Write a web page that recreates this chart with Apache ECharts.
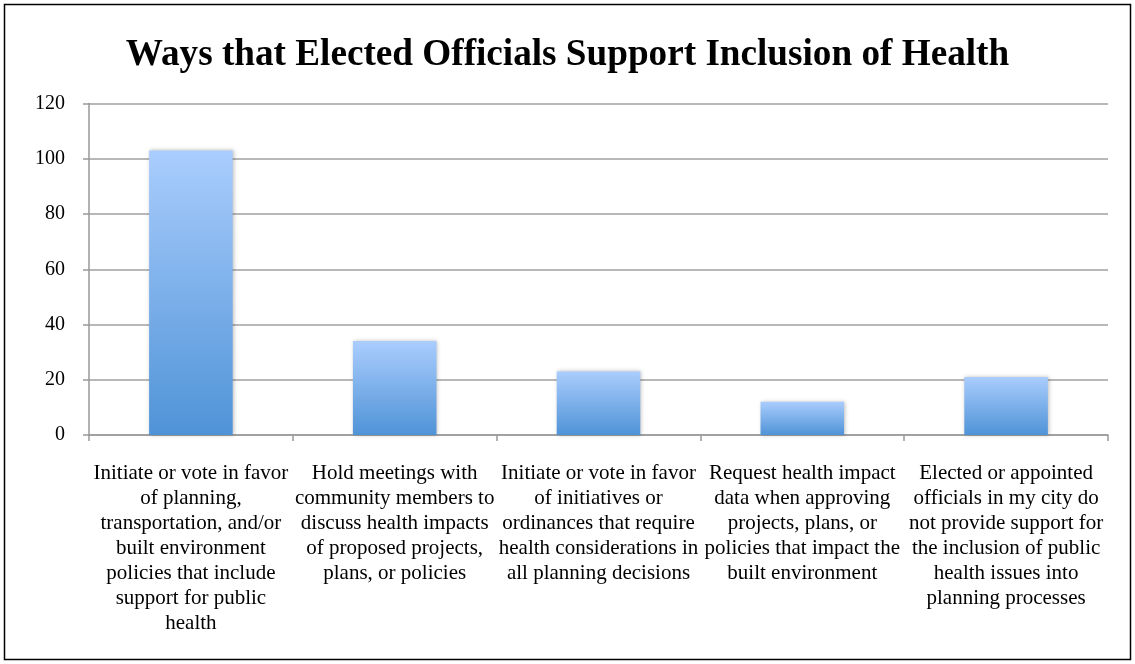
<!DOCTYPE html>
<html>
<head>
<meta charset="utf-8">
<script src="https://cdn.jsdelivr.net/npm/echarts@6/dist/echarts.min.js"></script>
<style>
html,body{margin:0;padding:0;background:#fff;}
#c{width:1135px;height:664px;}
</style>
</head>
<body>
<div id="c"></div>
<script>
const titleText = 'Ways that Elected Officials Support Inclusion of Health';
const categories = [
  'Initiate or vote in favor\nof planning,\ntransportation, and/or\nbuilt environment\npolicies that include\nsupport for public\nhealth',
  'Hold meetings with\ncommunity members to\ndiscuss health impacts\nof proposed projects,\nplans, or policies',
  'Initiate or vote in favor\nof initiatives or\nordinances that require\nhealth considerations in\nall planning decisions',
  'Request health impact\ndata when approving\nprojects, plans, or\npolicies that impact the\nbuilt environment',
  'Elected or appointed\nofficials in my city do\nnot provide support for\nthe inclusion of public\nhealth issues into\nplanning processes'
];
const values = [103, 34, 23, 12, 21];
const yTicks = [0, 20, 40, 60, 80, 100, 120];

const chart = echarts.init(document.getElementById('c'), null, {renderer: 'canvas'});
const serif = '"Liberation Serif", "DejaVu Serif", serif';
chart.setOption({
  animation: false,
  backgroundColor: '#fff',
  title: {
    text: titleText,
    left: 'center',
    top: 32,
    textStyle: {fontFamily: serif, fontWeight: 'bold', fontSize: 37.2, color: '#000'}
  },
  graphic: [{
    type: 'rect',
    shape: {x: 4.5, y: 4.5, width: 1126, height: 655},
    style: {fill: 'none', stroke: '#000', lineWidth: 1.5},
    silent: true
  }],
  grid: {left: 89, right: 27, top: 103.5, bottom: 229, containLabel: false},
  xAxis: {
    type: 'category',
    data: categories,
    boundaryGap: true,
    axisLine: {lineStyle: {color: '#999', width: 1.5}},
    axisTick: {show: true, alignWithLabel: false, length: 6, lineStyle: {color: '#999', width: 1.5}},
    axisLabel: {
      interval: 0,
      fontFamily: serif,
      fontSize: 21,
      lineHeight: 25,
      color: '#000',
      margin: 26,
      align: 'center'
    }
  },
  yAxis: {
    type: 'value',
    min: yTicks[0],
    max: yTicks[yTicks.length - 1],
    interval: yTicks[1] - yTicks[0],
    axisLine: {show: true, lineStyle: {color: '#999', width: 1.5}},
    axisTick: {show: true, length: 6, lineStyle: {color: '#999', width: 1.5}},
    splitLine: {lineStyle: {color: '#a0a0a0', width: 1.5}},
    axisLabel: {fontFamily: serif, fontSize: 20, color: '#000', margin: 24}
  },
  series: [{
    type: 'bar',
    data: values,
    barWidth: '41%',
    itemStyle: {
      color: new echarts.graphic.LinearGradient(0, 0, 0, 1, [
        {offset: 0, color: '#aacdfd'},
        {offset: 1, color: '#4f93d7'}
      ]),
      shadowColor: 'rgba(0,0,0,0.25)',
      shadowBlur: 4,
      shadowOffsetX: 1,
      shadowOffsetY: 0
    }
  }]
});
</script>
</body>
</html>
